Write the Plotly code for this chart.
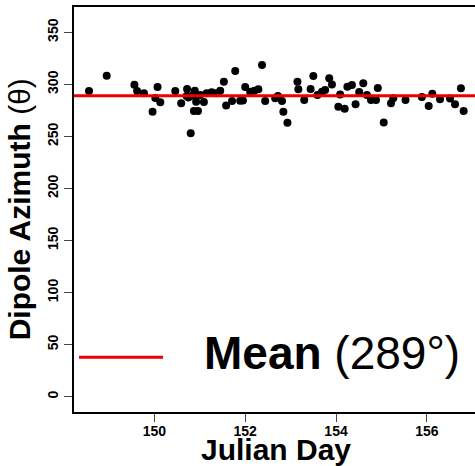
import plotly.graph_objects as go

# Julian day of each observation
days = [148.56, 148.95, 149.56, 149.62, 149.77, 150.07, 150.02, 150.13, 149.96, 150.46,
        150.59, 150.72, 150.71, 150.75, 150.80, 150.89, 150.92, 150.87, 150.96, 150.83,
        150.93, 151.01, 151.09, 151.15, 151.26, 151.36, 151.45, 151.53, 151.58, 151.71,
        151.78, 151.89, 151.95, 152.00, 152.11, 152.20, 152.29, 152.37, 152.44, 152.66,
        152.72, 152.81, 152.84, 152.93, 153.15, 153.17, 153.30, 153.44, 153.50, 153.59,
        153.69, 153.76, 153.85, 153.91, 154.05, 154.09, 154.19, 154.25, 154.35, 154.43,
        154.51, 154.60, 154.68, 154.77, 154.88, 154.92, 155.05, 155.21, 155.26, 155.53,
        155.89, 156.04, 156.12, 156.29, 156.51, 156.62, 156.75, 156.81]
# Dipole azimuth (degrees)
azimuth = [293.6, 308.3, 299.6, 293.6, 291.4, 297.5, 286.9, 282.8, 273.7, 293.6,
           281.8, 295.6, 288.8, 287.4, 253.0, 293.9, 283.3, 274.4, 274.4, 289.1,
           289.1, 289.8, 283.1, 291.4, 292.4, 291.4, 293.9, 302.6, 279.7, 284.0,
           312.8, 284.2, 284.5, 297.5, 293.0, 293.9, 295.3, 318.6, 284.0, 286.6,
           288.8, 284.0, 273.7, 263.2, 302.6, 295.3, 285.0, 295.6, 308.0, 289.8,
           293.0, 294.6, 305.8, 299.9, 278.6, 290.3, 276.5, 297.8, 299.4, 280.9,
           292.7, 301.0, 289.8, 285.0, 285.0, 296.5, 263.4, 281.8, 286.6, 285.0,
           287.9, 279.2, 291.0, 285.7, 286.4, 280.9, 296.2, 274.4]
mean_value = 289
x_range = [148.23, 157.06]
y_range = [-14.7, 374.3]
x_ticks = [150, 152, 154, 156]
y_ticks = [0, 50, 100, 150, 200, 250, 300, 350]

FONT = "Liberation Sans, Arial, sans-serif"

fig = go.Figure()
fig.add_trace(go.Scatter(x=days, y=azimuth, mode="markers",
                         marker=dict(color="black", size=8, line=dict(width=0)),
                         showlegend=False, hoverinfo="skip"))
fig.add_trace(go.Scatter(x=x_range, y=[mean_value, mean_value], mode="lines",
                         line=dict(color="#ee0000", width=3), showlegend=False,
                         hoverinfo="skip"))

fig.update_layout(
    width=475, height=466,
    margin=dict(l=74, r=0, t=7, b=54),
    paper_bgcolor="white", plot_bgcolor="white",
    font=dict(family=FONT, color="black"),
    xaxis=dict(range=x_range, tickvals=x_ticks, ticktext=[f"<b>{v}</b>" for v in x_ticks],
               showgrid=False, zeroline=False, showline=True, linecolor="black",
               linewidth=2, mirror=True, ticks="outside", ticklen=8, tickwidth=1,
               tickcolor="#444", tickfont=dict(size=14, family=FONT),
               ticklabelstandoff=-3),
    yaxis=dict(range=y_range, tickvals=y_ticks, ticktext=[f"<b>{v}</b>" for v in y_ticks],
               showgrid=False, zeroline=False, showline=True, linecolor="black",
               linewidth=2, ticks="outside", ticklen=8, tickwidth=1, tickcolor="#444",
               tickangle=-90, tickfont=dict(size=14, family=FONT)),
)

# axis titles
fig.add_annotation(text="<b>Julian Day</b>", xref="paper", yref="paper",
                   x=0.504, y=-0.047, xanchor="center", yanchor="top",
                   showarrow=False, font=dict(size=30, family=FONT))
fig.add_annotation(text="<b>Dipole Azimuth</b> (θ)", xref="paper", yref="paper",
                   x=-0.135, y=0.5, xanchor="center", yanchor="middle", textangle=-90,
                   showarrow=False, font=dict(size=30, family=FONT))

# legend
fig.add_shape(type="line", xref="paper", yref="paper", x0=0.0125, x1=0.222,
              y0=0.135, y1=0.135, line=dict(color="#ee0000", width=3))
fig.add_annotation(text="<b>Mean</b> (289°)", xref="paper", yref="paper",
                   x=0.318, y=0.146, xanchor="left", yanchor="middle",
                   showarrow=False, font=dict(size=46, family=FONT))

fig.write_html("out.html")
